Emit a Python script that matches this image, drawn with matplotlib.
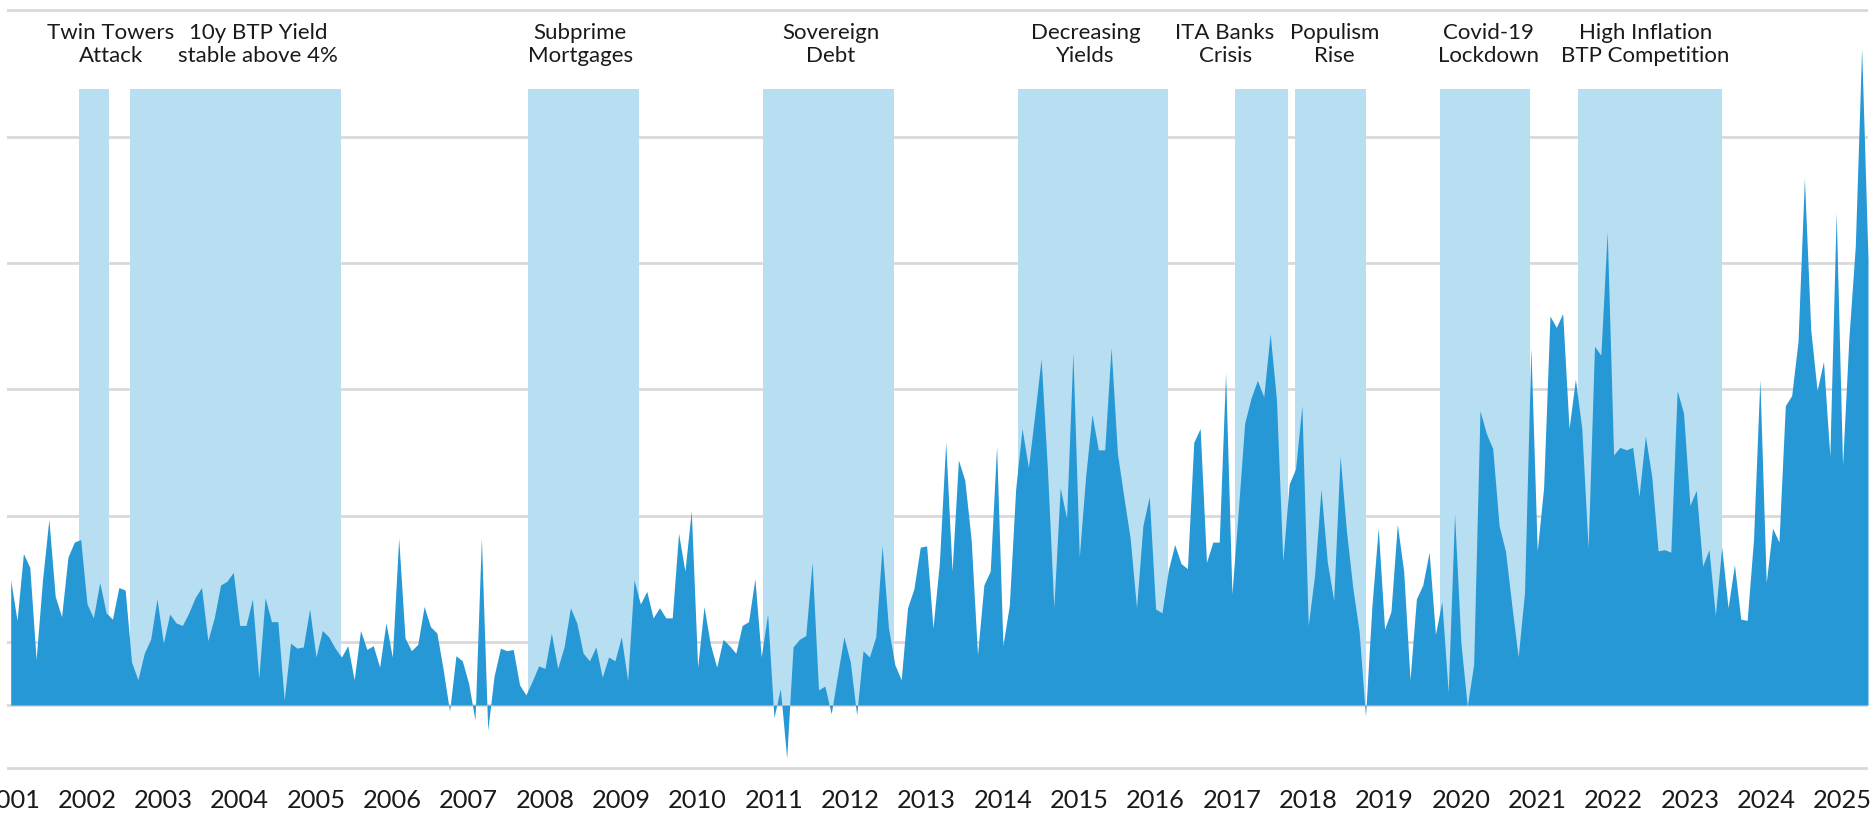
import matplotlib.pyplot as plt
import numpy as np

plt.rcParams['font.family'] = ['Lato', 'DejaVu Sans']

# monthly values (one unit = one gridline step), Jan 2001 .. May 2025
v2001 = [0.99, 0.67, 1.20, 1.09, 0.36, 0.99, 1.47, 0.86, 0.70, 1.17, 1.29, 1.31]
v2002 = [0.80, 0.69, 0.97, 0.73, 0.68, 0.93, 0.91, 0.34, 0.20, 0.41, 0.52, 0.84]
v2003 = [0.49, 0.72, 0.65, 0.63, 0.73, 0.85, 0.93, 0.51, 0.69, 0.95, 0.98, 1.05]
v2004 = [0.63, 0.63, 0.84, 0.21, 0.85, 0.66, 0.66, 0.04, 0.49, 0.45, 0.46, 0.76]
v2005 = [0.38, 0.59, 0.54, 0.45, 0.38, 0.47, 0.20, 0.59, 0.44, 0.47, 0.30, 0.65]
v2006 = [0.38, 1.32, 0.53, 0.43, 0.48, 0.78, 0.62, 0.57, 0.28, -0.05, 0.39, 0.35]
v2007 = [0.17, -0.12, 1.32, -0.20, 0.23, 0.45, 0.43, 0.44, 0.16, 0.08, 0.19, 0.31]
v2008 = [0.29, 0.57, 0.29, 0.46, 0.77, 0.65, 0.41, 0.35, 0.46, 0.22, 0.38, 0.35]
v2009 = [0.54, 0.19, 0.99, 0.80, 0.90, 0.69, 0.77, 0.69, 0.69, 1.36, 1.06, 1.54]
v2010 = [0.30, 0.78, 0.48, 0.30, 0.52, 0.47, 0.41, 0.63, 0.66, 1.00, 0.38, 0.72]
v2011 = [-0.10, 0.13, -0.42, 0.46, 0.52, 0.55, 1.13, 0.12, 0.15, -0.07, 0.24, 0.54]
v2012 = [0.34, -0.08, 0.43, 0.38, 0.54, 1.26, 0.61, 0.32, 0.20, 0.77, 0.92, 1.25]
v2013 = [1.26, 0.61, 1.12, 2.08, 1.06, 1.94, 1.78, 1.31, 0.40, 0.95, 1.06, 2.05]
v2014 = [0.47, 0.79, 1.71, 2.19, 1.88, 2.30, 2.74, 1.86, 0.77, 1.72, 1.48, 2.79]
v2015 = [1.17, 1.81, 2.30, 2.02, 2.02, 2.83, 1.99, 1.65, 1.32, 0.77, 1.42, 1.65]
v2016 = [0.76, 0.73, 1.07, 1.27, 1.12, 1.08, 2.08, 2.19, 1.13, 1.29, 1.29, 2.63]
v2017 = [0.88, 1.54, 2.23, 2.43, 2.57, 2.44, 2.94, 2.42, 1.14, 1.75, 1.87, 2.37]
v2018 = [0.63, 1.03, 1.71, 1.13, 0.83, 1.97, 1.38, 0.93, 0.58, -0.09, 0.78, 1.40]
v2019 = [0.60, 0.74, 1.43, 1.06, 0.20, 0.84, 0.95, 1.21, 0.56, 0.82, 0.10, 1.51]
v2020 = [0.49, -0.01, 0.32, 2.33, 2.15, 2.03, 1.42, 1.22, 0.79, 0.38, 0.89, 2.83]
v2021 = [1.22, 1.72, 3.08, 2.99, 3.10, 2.19, 2.58, 2.19, 1.24, 2.84, 2.77, 3.75]
v2022 = [1.98, 2.04, 2.02, 2.04, 1.65, 2.13, 1.81, 1.22, 1.23, 1.21, 2.49, 2.31]
v2023 = [1.58, 1.70, 1.10, 1.23, 0.71, 1.25, 0.77, 1.11, 0.68, 0.67, 1.31, 2.58]
v2024 = [0.97, 1.40, 1.29, 2.37, 2.45, 2.88, 4.17, 2.97, 2.49, 2.72, 1.97, 3.90]
v2025 = [1.90, 2.91, 3.63, 5.20, 3.53]

years = list(range(2001, 2026))

# shaded periods (in fractional years) and their captions
event_labels = ['Twin Towers\nAttack', '10y BTP Yield\nstable above 4%', 'Subprime\nMortgages',
                'Sovereign\nDebt', 'Decreasing\nYields', 'ITA Banks\nCrisis', 'Populism\nRise',
                'Covid-19\nLockdown', 'High Inflation\nBTP Competition']
event_start = [2001.89, 2002.56, 2007.78, 2010.85, 2014.20, 2017.04, 2017.83, 2019.72, 2021.53]
event_end = [2002.29, 2005.33, 2009.23, 2012.57, 2016.16, 2017.73, 2018.76, 2020.91, 2023.42]
event_label_x = [2002.31, 2004.24, 2008.46, 2011.74, 2015.08, 2016.91, 2018.34, 2020.36, 2022.42]
event_top = 4.88

values = np.array(v2001 + v2002 + v2003 + v2004 + v2005 + v2006 + v2007 + v2008 + v2009 +
                  v2010 + v2011 + v2012 + v2013 + v2014 + v2015 + v2016 + v2017 + v2018 +
                  v2019 + v2020 + v2021 + v2022 + v2023 + v2024 + v2025)
months = 2001 + np.arange(len(values)) / 12

fig = plt.figure(figsize=(18.7, 8.19), dpi=100)
ax = fig.add_axes([7 / 1870, 48.3 / 819, 1861 / 1870, 762.9 / 819])

# shaded event bands
widths = np.array(event_end) - np.array(event_start)
ax.bar(event_start, event_top, width=widths, align='edge', color='#B8DEF1', lw=0, zorder=1)

# the series itself
ax.fill_between(months, 0, values, color='#2698D5', lw=0, zorder=3)
ax.axhline(0, color='#D9D9D9', lw=2, zorder=2)

for lab, x in zip(event_labels, event_label_x):
    ax.text(x, 5.23, lab, ha='center', va='center', fontsize=16, color='#1a1a1a',
            linespacing=1.2)

ax.set_xlim(2001 - 0.58 / 12, 2001 + 292 / 12)
ax.set_ylim(-0.52, 5.52)
ax.set_yticks(np.arange(-0.5, 5.6, 1.0))
ax.set_yticklabels([])
ax.yaxis.grid(True, color='#D9D9D9', lw=2, zorder=0)
ax.set_axisbelow(True)
ax.set_xticks(years)
ax.set_xticklabels([str(y) for y in years], fontsize=18.3, color='#1a1a1a')
ax.tick_params(axis='both', length=0)
ax.tick_params(axis='x', pad=13)
for s in ax.spines.values():
    s.set_visible(False)

fig.savefig('out.png', dpi=100)
